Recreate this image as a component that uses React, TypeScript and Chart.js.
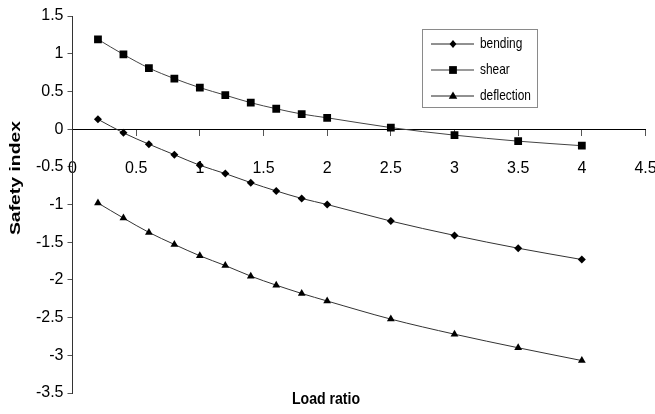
import React, { useEffect, useRef } from "react";
import { Chart, registerables } from "chart.js";

Chart.register(...registerables);

const loadRatio = [0.2, 0.4, 0.6, 0.8, 1.0, 1.2, 1.4, 1.6, 1.8, 2.0, 2.5, 3.0, 3.5, 4.0];
const bending = [0.13, -0.05, -0.2, -0.34, -0.48, -0.59, -0.71, -0.82, -0.92, -1.0, -1.22, -1.41, -1.58, -1.73];
const shear = [1.19, 0.99, 0.81, 0.67, 0.55, 0.45, 0.35, 0.27, 0.2, 0.15, 0.02, -0.08, -0.16, -0.22];
const deflection = [-0.98, -1.18, -1.37, -1.53, -1.68, -1.81, -1.95, -2.07, -2.18, -2.28, -2.52, -2.72, -2.9, -3.07];

const seriesNames = ["bending", "shear", "deflection"];
const xTitle = "Load ratio";
const yTitle = "Safety index";

const FONT = "'Liberation Sans', Arial, sans-serif";

function drawMarker(ctx: CanvasRenderingContext2D, style: string, x: number, y: number, r: number) {
  ctx.beginPath();
  if (style === "rectRot") {
    ctx.moveTo(x, y - r);
    ctx.lineTo(x + r * 0.85, y);
    ctx.lineTo(x, y + r);
    ctx.lineTo(x - r * 0.85, y);
    ctx.closePath();
  } else if (style === "rect") {
    const s = r * Math.SQRT1_2;
    ctx.rect(x - s, y - s, 2 * s, 2 * s);
  } else {
    ctx.moveTo(x, y - r);
    ctx.lineTo(x + r * 0.95, y + r * 0.6);
    ctx.lineTo(x - r * 0.95, y + r * 0.6);
    ctx.closePath();
  }
  ctx.fillStyle = "#000";
  ctx.fill();
}

const overlay = {
  id: "overlay",
  afterDraw(chart: any) {
    const ctx = chart.ctx as CanvasRenderingContext2D;
    ctx.save();
    // Legend box
    ctx.strokeStyle = "#8a8a8a";
    ctx.lineWidth = 1;
    ctx.strokeRect(422.5, 29.5, 115, 78);
    const rows = [44, 70, 96];
    const styles = ["rectRot", "rect", "triangle"];
    const lineColors = ["#222", "#9a9a9a", "#222"];
    const lineWidths = [1, 2, 1];
    const radii = [4, 5.5, 4.5];
    rows.forEach((ry, i) => {
      ctx.strokeStyle = lineColors[i];
      ctx.lineWidth = lineWidths[i];
      ctx.beginPath();
      ctx.moveTo(431, ry);
      ctx.lineTo(474, ry);
      ctx.stroke();
      drawMarker(ctx, styles[i], 453, ry, radii[i]);
      ctx.save();
      ctx.translate(480, ry);
      ctx.scale(0.82, 1);
      ctx.fillStyle = "#000";
      ctx.font = `14.5px ${FONT}`;
      ctx.textAlign = "left";
      ctx.textBaseline = "middle";
      ctx.fillText(seriesNames[i], 0, 0);
      ctx.restore();
    });
    // Axis titles
    ctx.save();
    ctx.fillStyle = "#000";
    ctx.font = `bold 17px ${FONT}`;
    ctx.textAlign = "center";
    ctx.textBaseline = "middle";
    ctx.translate(326, 399);
    ctx.scale(0.83, 1);
    ctx.fillText(xTitle, 0, 0);
    ctx.restore();

    ctx.save();
    ctx.fillStyle = "#000";
    ctx.textAlign = "center";
    ctx.textBaseline = "middle";
    ctx.translate(16, 178);
    ctx.rotate(-Math.PI / 2);
    ctx.scale(1.25, 1);
    ctx.font = `bold 15.5px ${FONT}`;
    ctx.fillText(yTitle, 0, 0);
    ctx.restore();
    ctx.restore();
  },
};

const fmt = (v: any) => String(Math.round(Number(v) * 10) / 10);

export default function App() {
  const ref = useRef<HTMLCanvasElement>(null);
  useEffect(() => {
    document.body.style.margin = "0";
    const mk = (vals: number[]) => loadRatio.map((x, i) => ({ x, y: vals[i] }));
    const common = {
      borderColor: "#333",
      borderWidth: 1,
      pointBackgroundColor: "#000",
      pointBorderColor: "#000",
      pointBorderWidth: 0,
      cubicInterpolationMode: "monotone" as const,
      fill: false,
    };
    const chart = new Chart(ref.current!, {
      type: "line",
      data: {
        datasets: [
          { ...common, label: seriesNames[0], data: mk(bending), pointStyle: "rectRot", pointRadius: 4 },
          { ...common, label: seriesNames[1], data: mk(shear), pointStyle: "rect", pointRadius: 5.5, borderColor: "#444" },
          { ...common, label: seriesNames[2], data: mk(deflection), pointStyle: "triangle", pointRadius: 4.5 },
        ],
      },
      plugins: [overlay],
      options: {
        animation: false,
        responsive: false,
        devicePixelRatio: 1,
        layout: { padding: { top: 16, bottom: 21, left: 0, right: 9.5 } },
        plugins: { legend: { display: false }, tooltip: { enabled: false } },
        scales: {
          x: {
            type: "linear",
            position: { y: 0 } as any,
            min: 0,
            max: 4.5,
            ticks: { stepSize: 0.5, color: "#000", padding: 24, font: { family: FONT, size: 16 }, callback: fmt },
            grid: { display: true, drawOnChartArea: false, drawTicks: true, tickLength: 6, color: "#555" },
            border: { display: true, color: "#000", width: 1 },
            afterFit: (s: any) => {
              s.paddingRight = 0;
              s.paddingLeft = 0;
            },
          },
          y: {
            type: "linear",
            min: -3.5,
            max: 1.5,
            ticks: { stepSize: 0.5, color: "#000", padding: 4, font: { family: FONT, size: 16 }, callback: fmt },
            grid: { display: true, drawOnChartArea: false, drawTicks: true, tickLength: 5, color: "#555" },
            border: { display: true, color: "#333", width: 1 },
            afterFit: (s: any) => {
              s.width = 72.5;
            },
          },
        },
      },
    });
    return () => chart.destroy();
  }, []);
  return (
    <div style={{ width: 655, height: 414 }}>
      <canvas ref={ref} width={655} height={414} />
    </div>
  );
}
